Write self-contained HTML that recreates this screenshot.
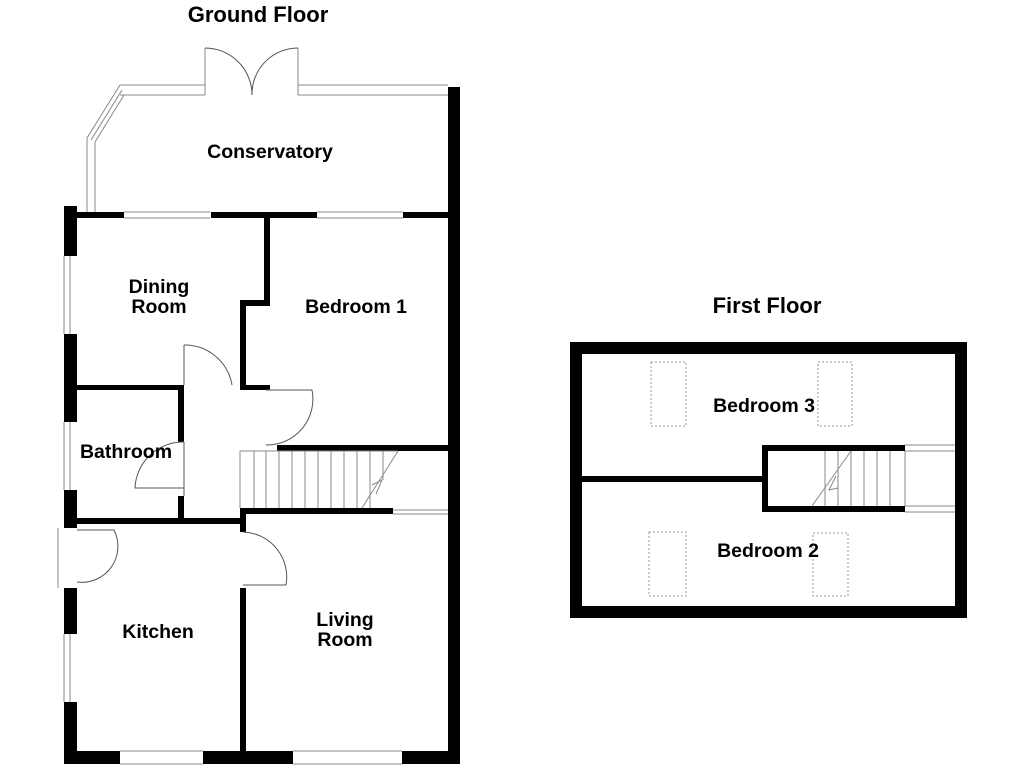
<!DOCTYPE html>
<html><head><style>body{margin:0;background:#fff}svg{display:block}text{font-family:"Liberation Sans",sans-serif;font-weight:bold;fill:#000;text-anchor:middle}</style></head>
<body>
<svg width="1024" height="768" viewBox="0 0 1024 768">
<g font-size="22"><text x="258" y="22">Ground Floor</text><text x="767" y="313">First Floor</text></g>
<g fill="#000">
<rect x="448" y="87" width="12" height="677"/>
<rect x="64" y="206" width="13" height="50"/>
<rect x="64" y="334" width="13" height="88"/>
<rect x="64" y="490" width="13" height="38"/>
<rect x="64" y="588" width="13" height="46"/>
<rect x="64" y="702" width="13" height="62"/>
<rect x="64" y="751" width="56" height="13"/>
<rect x="203" y="751" width="90" height="13"/>
<rect x="402" y="751" width="58" height="13"/>
<rect x="64" y="212" width="60" height="6"/>
<rect x="211" y="212" width="106" height="6"/>
<rect x="403" y="212" width="45" height="6"/>
<rect x="264" y="218" width="6" height="87"/>
<rect x="240" y="300" width="30" height="6"/>
<rect x="240" y="300" width="6" height="90"/>
<rect x="246" y="385" width="24" height="5"/>
<rect x="77" y="385" width="103" height="5"/>
<rect x="178" y="385" width="6" height="57"/>
<rect x="178" y="496" width="6" height="26"/>
<rect x="64" y="518" width="182" height="6"/>
<rect x="277" y="445" width="171" height="6"/>
<rect x="240" y="508" width="153" height="6"/>
<rect x="240" y="508" width="6" height="24"/>
<rect x="240" y="588" width="6" height="163"/>
<rect x="570" y="342" width="397" height="12"/>
<rect x="570" y="606" width="397" height="12"/>
<rect x="570" y="342" width="12" height="276"/>
<rect x="955" y="342" width="12" height="276"/>
<rect x="582" y="476" width="182" height="6"/>
<rect x="762" y="445" width="6" height="67"/>
<rect x="762" y="445" width="143" height="6"/>
<rect x="762" y="506" width="143" height="6"/>
</g>
<g fill="none" stroke="#888" stroke-width="1">
<path d="M120 85 H205 M120 95 H205 M298 85 H448 M298 95 H448 M205 48 V95 M298 48 V95"/>
<path d="M120 85 L87 138 V212 M124 95 L95 142 V212 M122 90 L91 140"/>
<path d="M205 48 A47 47 0 0 1 252 95 M298 48 A46 46 0 0 0 252 95" stroke="#555"/>
<path d="M124 212 H210 M124 218 H210 M317 212 H403 M317 218 H403"/>
<path d="M64 256 V334 M70 256 V334 M64 422 V490 M70 422 V490 M64 634 V702 M70 634 V702 M58 528 V588"/>
<path d="M120 751 H203 M120 764 H203 M293 751 H402 M293 764 H402 M393 510 H448 M393 514 H448 M905 445 H955 M905 451 H955 M905 506 H955 M905 512 H955"/>
<path d="M184 345 V385 M184 345 A48 48 0 0 1 232 385" stroke="#555"/>
<path d="M266 390 H312 A46 46 0 0 1 266 445" stroke="#555"/>
<path d="M184 442 V496 M184 442 A48 48 0 0 0 135 488 H184" stroke="#555"/>
<path d="M77 530 H114 A36 36 0 0 1 77 582" stroke="#555"/>
<path d="M243 532 A45 45 0 0 1 286 585 H243" stroke="#555"/>
<path d="M240 451 H398 M240 451 V508 M254 451 V508 M266 451 V508 M279 451 V508 M292 451 V508 M305 451 V508 M318 451 V508 M331 451 V508 M344 451 V508 M357 451 V508 M370 451 V508 M383 451 V480 M398 451 L362 508 M372 485 L382 480 L376 494"/>
<path d="M905 451 V506 M890 451 V506 M877 451 V506 M864 451 V506 M851 451 V506 M838 451 V506 M825 451 V506 M851 451 L812 506 M836 476 L829 490 L838 488"/>
</g>
<g fill="none" stroke="#999" stroke-width="1" stroke-dasharray="2,2">
<rect x="651" y="362" width="35" height="64"/><rect x="818" y="362" width="34" height="64"/>
<rect x="649" y="532" width="37" height="64"/><rect x="813" y="533" width="35" height="63"/>
</g>
<g font-size="19.5">
<text x="270" y="158">Conservatory</text>
<text x="159" y="293">Dining</text><text x="159" y="313">Room</text>
<text x="356" y="313">Bedroom 1</text>
<text x="126" y="458">Bathroom</text>
<text x="158" y="638">Kitchen</text>
<text x="345" y="626">Living</text><text x="345" y="646">Room</text>
<text x="764" y="412">Bedroom 3</text>
<text x="768" y="557">Bedroom 2</text>
</g>
</svg>
</body></html>
